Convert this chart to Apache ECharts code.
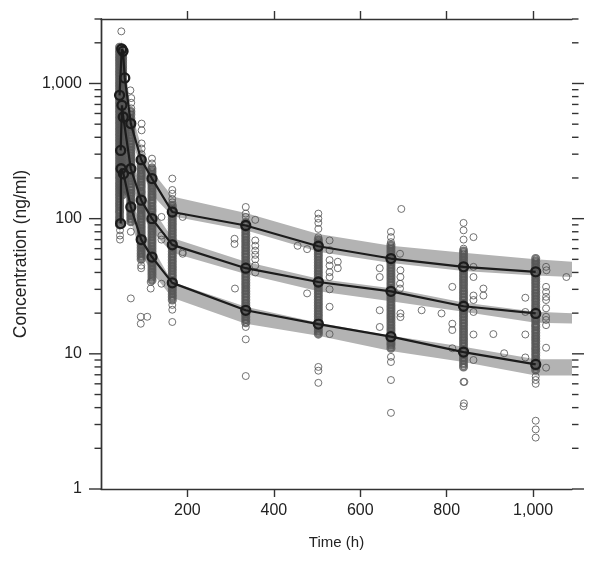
<!DOCTYPE html>
<html>
<head>
<meta charset="utf-8">
<script src="https://cdn.jsdelivr.net/npm/echarts@6/dist/echarts.min.js"></script>
<style>
  html, body { margin: 0; padding: 0; background: #fff; }
  #chart { width: 600px; height: 562px; }
</style>
</head>
<body>
<div id="chart"></div>
<script>
// ---------- axis settings ----------
const X_MIN = 0, X_MAX = 1090, Y_MIN = 1, Y_MAX = 3000;
const xTickValues = [200, 400, 600, 800, 1000];
const yMajorTicks = [1, 10, 100, 1000];
const yMinorTicks = [2, 3, 4, 5, 6, 7, 8, 9, 20, 30, 40, 50, 60, 70, 80, 90,
                     200, 300, 400, 500, 600, 700, 800, 900, 2000, 3000];

// ---------- observed percentiles (95th, median, 5th) ----------
const p95Time  = [43, 48, 51, 55, 69, 93, 118, 165, 335, 503, 671, 839, 1006];
const p95Value = [817, 1800, 1735, 1100, 505, 273, 198, 112, 89, 62.5, 50.7, 44, 40.4];
const p50Time  = [45.5, 48.5, 51.5, 69, 93, 118, 165, 335, 503, 671, 839, 1006];
const p50Value = [320, 689, 565, 234, 137, 100, 64, 43, 34, 29, 22.5, 19.9];
const p05Time  = [45.5, 46.5, 52, 69, 93, 118, 165, 335, 503, 671, 839, 1006];
const p05Value = [92, 234, 215, 122, 70, 52, 33.5, 21, 16.6, 13.4, 10.3, 8.35];

// ---------- simulated confidence bands ----------
const bandTime  = [43, 48, 55, 69, 93, 118, 165, 335, 503, 671, 839, 1006, 1090];
const band95Lo  = [600, 1300, 850, 420, 230, 150, 104, 82, 57, 47, 41, 38, 37];
const band95Hi  = [1100, 2100, 1400, 650, 340, 225, 146, 110, 77, 63, 56, 50, 48];
const band50Lo  = [250, 550, 450, 190, 110, 80, 56, 39, 29, 24.5, 20.5, 17, 16.8];
const band50Hi  = [420, 900, 700, 300, 165, 120, 72, 48, 36, 30.5, 24, 20.5, 20];
const band05Lo  = [70, 180, 170, 95, 55, 40, 26, 16.7, 13.6, 10.5, 8.7, 6.9, 6.9];
const band05Hi  = [120, 290, 270, 150, 85, 62, 34, 22.3, 17, 13.6, 11.3, 9.1, 9.1];

// ---------- observations: dense columns at nominal times ----------
const obs43 = [90, 95, 99, 104, 110, 115, 121, 127, 133, 140, 147, 154, 162, 170, 178, 187, 197, 206, 217, 228, 239, 251, 264, 277, 291, 305, 320, 336, 353, 371, 389, 409, 429, 451, 473, 497, 522, 548, 575, 604, 634, 666, 699, 734, 771, 809, 850, 892, 937, 984, 1030, 1085, 1140, 1195, 1255, 1320, 1385, 1455, 1525, 1600, 1680, 1765, 1855];
const obs50 = [150, 158, 166, 174, 183, 192, 201, 211, 222, 233, 245, 257, 270, 283, 297, 312, 328, 344, 361, 379, 398, 418, 439, 461, 484, 508, 534, 560, 588, 618, 649, 681, 715, 751, 789, 828, 870, 913, 959, 1005, 1055, 1110, 1165, 1220, 1285, 1350, 1415, 1485, 1560, 1640, 1720];
const obs69 = [95, 100, 105, 110, 116, 122, 128, 134, 141, 148, 155, 163, 171, 180, 189, 198, 208, 219, 230, 241, 253, 266, 279, 293, 308, 323, 339, 356, 374, 393, 412, 433, 455, 477, 501, 526, 553, 590, 620];
const obs93 = [50, 52.5, 55.1, 57.9, 60.8, 63.8, 67, 70.4, 73.9, 77.6, 81.5, 85.5, 89.8, 94.3, 99, 104, 109, 115, 120, 126, 133, 139, 146, 154, 161, 170, 178, 187, 196, 206, 216, 227, 238, 250, 263, 276];
const obs118 = [35, 36.8, 38.6, 40.5, 42.5, 44.7, 46.9, 49.2, 51.7, 54.3, 57, 59.8, 62.8, 66, 69.3, 72.7, 76.4, 80.2, 84.2, 88.4, 92.8, 97.5, 102, 107, 113, 118, 124, 131, 137, 144, 151, 159, 167, 175, 184, 193, 203, 213, 223, 234];
const obs165 = [25, 26.3, 27.6, 29, 30.4, 31.9, 33.5, 35.2, 37, 38.8, 40.8, 42.8, 44.9, 47.2, 49.5, 52, 54.6, 57.3, 60.2, 63.2, 66.4, 69.7, 73.2, 76.8, 80.7, 84.7, 88.9, 93.4, 98, 102.9, 108.1, 113.5, 119.2, 125.1];
const obs335 = [17, 17.9, 18.8, 19.7, 20.7, 21.7, 22.8, 23.9, 25.1, 26.4, 27.7, 29.1, 30.5, 32, 33.6, 35.3, 37.1, 38.9, 40.9, 42.9, 45.1, 47.3, 49.7, 52.2, 54.8, 57.5, 60.4, 63.4, 66.6, 69.9, 73.4, 77.1, 80.9, 85, 89.2, 93.7];
const obs503 = [14, 14.7, 15.4, 16.2, 17, 17.9, 18.8, 19.7, 20.7, 21.7, 22.8, 23.9, 25.1, 26.4, 27.7, 29.1, 30.5, 32, 33.6, 35.3, 37.1, 38.9, 40.9, 42.9, 45.1, 47.3, 49.7, 52.2, 54.8, 57.5, 60.4, 63.4, 66.6, 69.9];
const obs671 = [11, 11.6, 12.1, 12.7, 13.4, 14.1, 14.8, 15.5, 16.3, 17.1, 18, 18.9, 19.8, 20.8, 21.8, 22.9, 24.1, 25.3, 26.5, 27.9, 29.3, 30.7, 32.3, 33.9, 35.6, 37.3, 39.2, 41.2, 43.2, 45.4, 47.6, 50, 52.5, 55.2, 57.9, 60.8, 63.9];
const obs839 = [8, 8.4, 8.9, 9.3, 9.8, 10.3, 10.8, 11.4, 12, 12.6, 13.2, 13.9, 14.6, 15.3, 16.1, 16.9, 17.8, 18.7, 19.6, 20.6, 21.6, 22.7, 23.9, 25.1, 26.3, 27.7, 29.1, 30.5, 32.1, 33.7, 35.4, 37.1, 39, 41, 43, 45.2, 47.5, 49.8, 52.3, 55, 57.7];
const obs1006 = [7.6, 8, 8.4, 8.8, 9.2, 9.7, 10.2, 10.7, 11.2, 11.8, 12.4, 13, 13.6, 14.3, 15, 15.8, 16.5, 17.4, 18.2, 19.1, 20.1, 21.1, 22.1, 23.2, 24.4, 25.6, 26.9, 28.2, 29.6, 31.1, 32.7, 34.3, 36, 37.8, 39.7, 41.7, 43.8, 46, 48.3, 50.7];
const columnTimes = [43, 50, 69, 93, 118, 165, 335, 503, 671, 839, 1006];
const columnValues = [obs43, obs50, obs69, obs93, obs118, obs165, obs335, obs503, obs671, obs839, obs1006];

// ---------- observations: scattered individual points [time, conc] ----------
const obsExtra = [
  [47, 2430], [44, 82], [44, 75], [44, 70],
  [68, 890], [70, 780], [70, 720], [70, 655], [69, 80], [69, 25.7],
  [94, 505], [94, 450], [94, 360], [94, 330], [94, 300], [93, 45], [93, 43], [92, 18.8], [92, 16.7], [107, 18.8],
  [118, 278], [118, 256], [118, 240], [115, 30.4], [115, 34],
  [140, 103], [140, 75], [140, 70], [140, 33], [189, 103], [189, 56.5], [189, 55],
  [165, 198], [165, 163], [165, 153], [165, 140], [165, 132], [165, 23], [165, 21.2], [165, 17.2],
  [335, 122], [335, 109], [335, 103], [335, 15.8], [335, 12.8], [335, 6.85],
  [309, 71], [309, 65], [310, 30.4],
  [357, 98], [357, 69], [357, 63], [357, 58], [357, 54], [357, 50], [357, 45], [357, 40],
  [503, 109], [503, 100], [503, 93], [503, 84], [503, 73], [503, 8], [503, 7.5], [503, 6.1],
  [455, 63], [477, 59.5], [477, 28], [529, 69], [529, 58.5], [529, 49.4], [529, 45], [529, 40.2],
  [529, 37], [529, 30], [529, 22.3], [529, 14], [548, 48], [548, 43],
  [671, 80], [671, 73], [671, 67], [671, 9.5], [671, 8.7], [671, 6.4], [671, 3.66],
  [695, 118], [692, 55], [693, 41.5], [693, 37], [692, 33], [692, 30.4], [693, 19.9], [693, 18.7],
  [645, 43], [645, 37], [645, 21], [645, 15.8], [742, 21], [788, 19.9],
  [839, 93], [839, 82], [839, 70], [839, 60], [839, 6.2], [841, 6.2], [840, 4.3], [839, 4.1],
  [862, 73], [862, 44], [862, 37], [862, 27], [862, 25], [862, 20.4], [862, 13.9], [862, 9],
  [885, 30.4], [885, 27], [908, 14], [933, 10.1], [813, 31.3], [813, 16.7], [813, 15], [813, 11],
  [1006, 6.8], [1006, 6.4], [1006, 6.0], [1006, 3.2], [1006, 2.76], [1006, 2.4],
  [1030, 44], [1031, 41.5], [1030, 31.3], [1030, 28.7], [1030, 26.4], [1030, 25], [1030, 21.7],
  [1030, 18.8], [1030, 17.8], [1030, 16.3], [1030, 11.1], [1030, 7.9],
  [982, 26], [982, 20.4], [982, 13.9], [982, 9.4], [1077, 37]
];

// ---------- build ----------
const FONT = "'Liberation Sans', Arial, Helvetica, sans-serif";
const AXIS_COLOR = '#333';
const TEXT_COLOR = '#222';

const columnData = [];
columnTimes.forEach((t, i) => columnValues[i].forEach(v => columnData.push([t, v])));

function zip(ts, vs) { return ts.map((t, i) => [t, vs[i]]); }

function bandSeries(lo, hi) {
  return {
    type: 'custom', coordinateSystem: 'cartesian2d', clip: true, silent: true, z: 1,
    data: [[bandTime[0], lo[0]]],
    renderItem: function (params, api) {
      const pts = [];
      for (let i = 0; i < bandTime.length; i++) pts.push(api.coord([bandTime[i], lo[i]]));
      for (let i = bandTime.length - 1; i >= 0; i--) pts.push(api.coord([bandTime[i], hi[i]]));
      return { type: 'polygon', shape: { points: pts }, style: { fill: '#b3b3b3' } };
    }
  };
}

function pctSeries(ts, vs) {
  return {
    type: 'line', z: 4, silent: true,
    data: zip(ts, vs),
    symbol: 'circle', symbolSize: 9,
    lineStyle: { color: '#1c1c1c', width: 2.2 },
    itemStyle: { color: 'rgba(0,0,0,0)', borderColor: '#1c1c1c', borderWidth: 2.3 }
  };
}

function yTickSeries(values, len) {
  return {
    type: 'custom', coordinateSystem: 'cartesian2d', clip: false, silent: true, z: 6,
    data: values.map(v => [X_MIN, v]),
    renderItem: function (params, api) {
      const v = api.value(1);
      const L = api.coord([X_MIN, v]);
      const R = api.coord([X_MAX, v]);
      const st = { stroke: AXIS_COLOR, lineWidth: 1.4 };
      return {
        type: 'group', children: [
          { type: 'line', shape: { x1: L[0] - len, y1: L[1], x2: L[0], y2: L[1] }, style: st },
          { type: 'line', shape: { x1: R[0], y1: R[1], x2: R[0] + len, y2: R[1] }, style: st }
        ]
      };
    }
  };
}

const fmt = v => Number(v).toLocaleString('en-US');

const chart = echarts.init(document.getElementById('chart'), null, { renderer: 'canvas' });
chart.setOption({
  animation: false,
  backgroundColor: '#fff',
  textStyle: { fontFamily: FONT },
  grid: { left: 101, right: 28, top: 19, bottom: 73, containLabel: false },
  xAxis: [
    {
      type: 'value', position: 'bottom', min: X_MIN, max: X_MAX, interval: 200,
      name: 'Time (h)', nameLocation: 'middle', nameGap: 46,
      nameTextStyle: { fontSize: 15, color: TEXT_COLOR, fontFamily: FONT },
      axisLine: { show: true, lineStyle: { color: AXIS_COLOR, width: 1.4 } },
      axisTick: { show: true, length: 8, inside: false, customValues: xTickValues, lineStyle: { color: AXIS_COLOR, width: 1.4 } },
      axisLabel: { show: true, customValues: xTickValues, formatter: fmt, fontSize: 16, color: TEXT_COLOR, margin: 14, fontFamily: FONT },
      splitLine: { show: false }
    },
    {
      type: 'value', position: 'top', min: X_MIN, max: X_MAX, interval: 200,
      axisLine: { show: true, lineStyle: { color: AXIS_COLOR, width: 1.4 } },
      axisTick: { show: true, length: 8, inside: false, customValues: xTickValues, lineStyle: { color: AXIS_COLOR, width: 1.4 } },
      axisLabel: { show: false },
      splitLine: { show: false }
    }
  ],
  yAxis: [
    {
      type: 'log', logBase: 10, position: 'left', min: Y_MIN, max: Y_MAX,
      name: 'Concentration (ng/ml)', nameLocation: 'middle', nameGap: 71,
      nameTextStyle: { fontSize: 17.5, color: TEXT_COLOR, fontFamily: FONT },
      axisLine: { show: true, lineStyle: { color: AXIS_COLOR, width: 1.4 } },
      axisTick: { show: false },
      axisLabel: {
        show: true, fontSize: 16, color: TEXT_COLOR, margin: 19, fontFamily: FONT,
        formatter: v => (yMajorTicks.some(m => Math.abs(m - v) < 1e-6 * m) ? fmt(Math.round(v)) : '')
      },
      splitLine: { show: false }
    },
    {
      type: 'log', logBase: 10, position: 'right', min: Y_MIN, max: Y_MAX,
      axisLine: { show: true, lineStyle: { color: AXIS_COLOR, width: 1.4 } },
      axisTick: { show: false },
      axisLabel: { show: false },
      splitLine: { show: false }
    }
  ],
  series: [
    bandSeries(band95Lo, band95Hi),
    bandSeries(band50Lo, band50Hi),
    bandSeries(band05Lo, band05Hi),
    {
      type: 'scatter', z: 2, silent: true, data: columnData,
      symbol: 'circle', symbolSize: 6.5,
      itemStyle: { color: 'rgba(0,0,0,0)', borderColor: '#555555', borderWidth: 2.6 }
    },
    {
      type: 'scatter', z: 2, silent: true, data: obsExtra,
      symbol: 'circle', symbolSize: 7,
      itemStyle: { color: 'rgba(0,0,0,0)', borderColor: '#505050', borderWidth: 1 }
    },
    pctSeries(p95Time, p95Value),
    pctSeries(p50Time, p50Value),
    pctSeries(p05Time, p05Value),
    yTickSeries(yMajorTicks, 12),
    yTickSeries(yMinorTicks, 6.5)
  ]
});
</script>
</body>
</html>
